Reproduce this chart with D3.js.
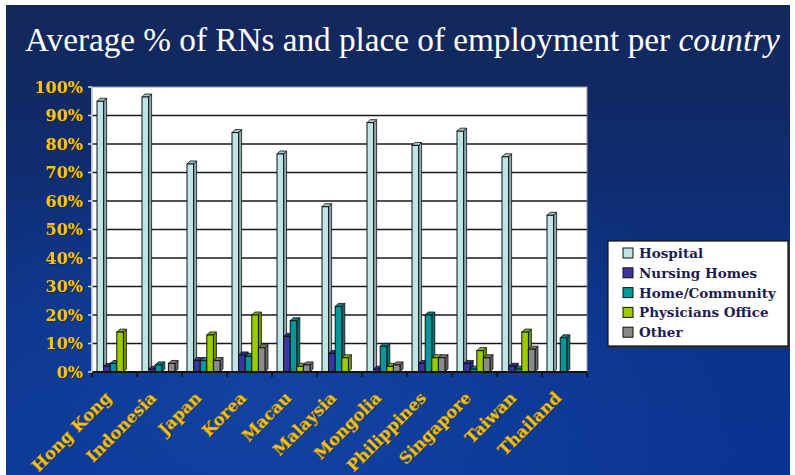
<!DOCTYPE html>
<html>
<head>
<meta charset="utf-8">
<script src="https://cdn.jsdelivr.net/npm/d3@7"></script>
<style>
  html, body { margin: 0; padding: 0; background: #fff; }
  svg { display: block; }
</style>
</head>
<body>
<div id="chart"></div>
<script>
// Chart data
const countries = ["Hong Kong", "Indonesia", "Japan", "Korea", "Macau", "Malaysia",
                   "Mongolia", "Philippines", "Singapore", "Taiwan", "Thailand"];
const seriesNames = ["Hospital", "Nursing Homes", "Home/Community", "Physicians Office", "Other"];
const hospital         = [95, 96.5, 73, 84, 76.5, 58, 87.5, 79.5, 84.5, 75.5, 55];
const nursingHomes     = [2, 1, 4, 6, 12.5, 6.5, 1, 3, 3, 2, 0];
const homeCommunity    = [3, 2.5, 4, 5.5, 18, 23, 9, 20, 1, 1, 12];
const physiciansOffice = [14, 0, 13, 20, 2, 5, 2, 5, 7.5, 14, 0];
const other            = [0, 3, 4, 8.5, 2.5, 0, 2.5, 5, 5, 8, 0];
const yTicks = [0, 10, 20, 30, 40, 50, 60, 70, 80, 90, 100];

const seriesValues = [hospital, nursingHomes, homeCommunity, physiciansOffice, other];
const colors = ["#bfe4e6", "#3a36a0", "#00979a", "#9acc00", "#8a8a8a"];

const width = 795, height = 475;
const plot = { left: 92, right: 587, top: 87, bottom: 372 };
const depth = 3;

const svg = d3.select("#chart").append("svg")
    .attr("width", width)
    .attr("height", height);

const defs = svg.append("defs");
const bg = defs.append("linearGradient").attr("id", "bg")
    .attr("x1", 0).attr("y1", 0).attr("x2", 0).attr("y2", 1);
bg.append("stop").attr("offset", "0%").attr("stop-color", "#13285a");
bg.append("stop").attr("offset", "25%").attr("stop-color", "#112a68");
bg.append("stop").attr("offset", "70%").attr("stop-color", "#0b338a");
bg.append("stop").attr("offset", "100%").attr("stop-color", "#0a3494");

const glow = defs.append("radialGradient").attr("id", "glow")
    .attr("cx", 0.35).attr("cy", 0.85).attr("r", 0.6);
glow.append("stop").attr("offset", "0%").attr("stop-color", "#1a4fb0").attr("stop-opacity", 0.55);
glow.append("stop").attr("offset", "100%").attr("stop-color", "#1a4fb0").attr("stop-opacity", 0);

const shadow = defs.append("filter").attr("id", "txtshadow")
    .attr("x", "-10%").attr("y", "-10%").attr("width", "130%").attr("height", "130%");
shadow.append("feDropShadow").attr("dx", 1).attr("dy", 1).attr("stdDeviation", 0.6)
    .attr("flood-color", "#3b2a00").attr("flood-opacity", 0.9);

// background
svg.append("rect").attr("x", 6).attr("y", 5).attr("width", 784).attr("height", 470)
    .attr("fill", "url(#bg)");
svg.append("rect").attr("x", 6).attr("y", 5).attr("width", 784).attr("height", 470)
    .attr("fill", "url(#glow)");

// title
const title = svg.append("text")
    .attr("x", 25).attr("y", 51)
    .attr("fill", "#ffffff")
    .style("font-family", "'Liberation Serif', 'DejaVu Serif', serif")
    .style("font-size", "31px");
title.append("tspan").text("Average % of RNs and place of employment per ");
title.append("tspan").style("font-style", "italic").text("country");
// fit to the reference width
const tw = title.node().getComputedTextLength();
title.style("font-size", (31 * 755 / tw) + "px");

// scales
const y = d3.scaleLinear().domain([0, 100]).range([plot.bottom, plot.top]);
const x0 = d3.scaleBand().domain(countries).range([plot.left, plot.right]).padding(0);
const x1 = d3.scaleBand().domain(seriesNames).range([5, 38]).padding(0);

// plot wall
svg.append("rect")
    .attr("x", plot.left).attr("y", plot.top)
    .attr("width", plot.right - plot.left).attr("height", plot.bottom - plot.top)
    .attr("fill", "#ffffff")
    .attr("stroke", "#9a9a9a").attr("stroke-width", 1);

// gridlines
svg.append("g").selectAll("line")
    .data(yTicks.filter(d => d > 0 && d < 100))
    .join("line")
    .attr("x1", plot.left).attr("x2", plot.right)
    .attr("y1", d => y(d)).attr("y2", d => y(d))
    .attr("stroke", "#1a1a1a").attr("stroke-width", 1.5);

// bars (3D look)
const groups = svg.append("g").selectAll("g")
    .data(countries)
    .join("g")
    .attr("transform", d => `translate(${x0(d)},0)`);

groups.each(function(c, ci) {
    const g = d3.select(this);
    seriesNames.forEach((s, si) => {
        const v = seriesValues[si][ci];
        if (v <= 0) return;
        const bx = x1(s), bw = x1.bandwidth(), by = y(v), bb = y(0);
        const col = d3.color(colors[si]);
        // side face
        g.append("path")
            .attr("d", `M${bx + bw},${by} L${bx + bw + depth},${by - depth} L${bx + bw + depth},${bb - depth} L${bx + bw},${bb} Z`)
            .attr("fill", col.darker(0.8))
            .attr("stroke", "#111").attr("stroke-width", 0.8);
        // top face
        g.append("path")
            .attr("d", `M${bx},${by} L${bx + depth},${by - depth} L${bx + bw + depth},${by - depth} L${bx + bw},${by} Z`)
            .attr("fill", col.darker(0.4))
            .attr("stroke", "#111").attr("stroke-width", 0.8);
        // front face
        g.append("rect")
            .attr("x", bx).attr("y", by)
            .attr("width", bw).attr("height", bb - by)
            .attr("fill", colors[si])
            .attr("stroke", "#111").attr("stroke-width", 1);
    });
});

// x axis
svg.append("line")
    .attr("x1", plot.left).attr("x2", plot.right)
    .attr("y1", plot.bottom).attr("y2", plot.bottom)
    .attr("stroke", "#111").attr("stroke-width", 2);
svg.append("g").selectAll("line")
    .data(countries.concat(["end"]))
    .join("line")
    .attr("x1", (d, i) => plot.left + i * x0.bandwidth())
    .attr("x2", (d, i) => plot.left + i * x0.bandwidth())
    .attr("y1", plot.bottom).attr("y2", plot.bottom + 5)
    .attr("stroke", "#111").attr("stroke-width", 1.5);

// y axis
svg.append("line")
    .attr("x1", plot.left).attr("x2", plot.left)
    .attr("y1", plot.top).attr("y2", plot.bottom)
    .attr("stroke", "#cfd6e6").attr("stroke-width", 1.5);
svg.append("g").selectAll("line")
    .data(yTicks)
    .join("line")
    .attr("x1", plot.left - 4).attr("x2", plot.left)
    .attr("y1", d => y(d)).attr("y2", d => y(d))
    .attr("stroke", "#cfd6e6").attr("stroke-width", 1.5);

const gold = "#f4c21a";
svg.append("g").selectAll("text")
    .data(yTicks)
    .join("text")
    .attr("x", 83)
    .attr("y", d => y(d) + 5.5)
    .attr("text-anchor", "end")
    .attr("fill", gold)
    .attr("filter", "url(#txtshadow)")
    .style("font-family", "'DejaVu Serif', serif")
    .style("font-weight", "bold")
    .style("font-size", "16px")
    .text(d => d + "%");

// x labels
svg.append("g").selectAll("text")
    .data(countries)
    .join("text")
    .attr("transform", d => `translate(${x0(d) + x0.bandwidth() / 2 - 2},${plot.bottom + 27}) rotate(-45)`)
    .attr("text-anchor", "end")
    .attr("fill", gold)
    .attr("filter", "url(#txtshadow)")
    .style("font-family", "'DejaVu Serif', serif")
    .style("font-weight", "bold")
    .style("font-size", "16.5px")
    .text(d => d);

// legend
const legend = svg.append("g").attr("transform", "translate(608,241)");
legend.append("rect")
    .attr("x", 2).attr("y", 2).attr("width", 180).attr("height", 105)
    .attr("fill", "#333");
legend.append("rect")
    .attr("width", 180).attr("height", 105)
    .attr("fill", "#ffffff").attr("stroke", "#111").attr("stroke-width", 1.2);
const items = legend.selectAll("g.item")
    .data(seriesNames)
    .join("g")
    .attr("class", "item")
    .attr("transform", (d, i) => `translate(0,${12 + i * 19.8})`);
items.append("rect")
    .attr("x", 15).attr("y", -5).attr("width", 10).attr("height", 10)
    .attr("fill", (d, i) => colors[i])
    .attr("stroke", "#111").attr("stroke-width", 1);
items.append("text")
    .attr("x", 31).attr("y", 5)
    .attr("fill", "#1c1c52")
    .style("font-family", "'DejaVu Serif', serif")
    .style("font-weight", "bold")
    .style("font-size", "13.5px")
    .text(d => d);
</script>
</body>
</html>
